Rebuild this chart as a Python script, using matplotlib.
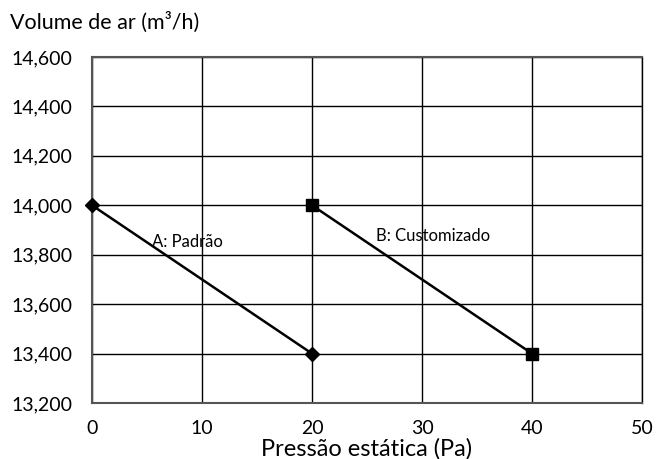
import matplotlib.pyplot as plt
from matplotlib.ticker import FuncFormatter

plt.rcParams['font.family'] = ['Lato', 'DejaVu Sans']

# curva A (padrão) e curva B (customizado)
pressao_a = [0, 20]
volume_a = [14000, 13400]
pressao_b = [20, 40]
volume_b = [14000, 13400]

x_ticks = [0, 10, 20, 30, 40, 50]
y_ticks = [13200, 13400, 13600, 13800, 14000, 14200, 14400, 14600]

fig = plt.figure(figsize=(6.57, 4.59), dpi=100)
ax = fig.add_axes([92 / 657, 1 - 403 / 459, 550 / 657, 346 / 459])

ax.plot(pressao_a, volume_a, color='black', linewidth=1.8, marker='D',
        markersize=7, zorder=3, clip_on=False)
ax.plot(pressao_b, volume_b, color='black', linewidth=1.8, marker='s',
        markersize=8, zorder=3, clip_on=False)

ax.text(5.5, 13850, 'A: Padrão', fontsize=12, va='center', ha='left')
ax.text(25.8, 13875, 'B: Customizado', fontsize=12, va='center', ha='left')

ax.set_xlim(0, 50)
ax.set_ylim(13200, 14600)
ax.set_xticks(x_ticks)
ax.set_yticks(y_ticks)
ax.yaxis.set_major_formatter(FuncFormatter(lambda v, p: f'{int(v):,}'))
ax.grid(True, color='black', linewidth=1)
ax.tick_params(length=0, labelsize=14)
ax.tick_params(axis='y', pad=14)
ax.tick_params(axis='x', pad=12)

for side in ['top', 'left', 'bottom', 'right']:
    ax.spines[side].set_color('#555555')
    ax.spines[side].set_linewidth(1.5)
ax.spines['right'].set_color('black')
ax.spines['right'].set_linewidth(1)

ax.set_xlabel('Pressão estática (Pa)', fontsize=17, labelpad=1)
fig.text(10 / 657, 1 - 22 / 459, 'Volume de ar (m³/h)', fontsize=15.5,
         va='center', ha='left')

plt.savefig('out.png')
